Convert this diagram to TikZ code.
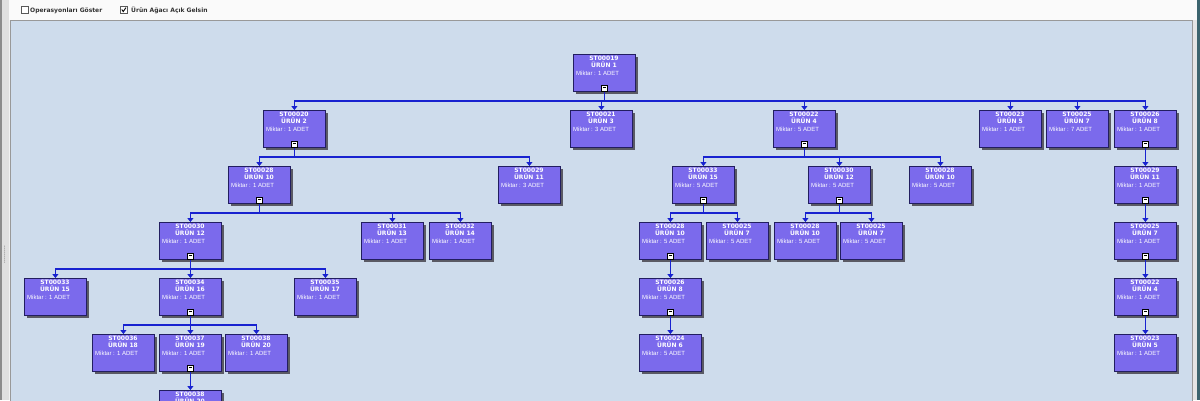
\documentclass[tikz,border=0pt]{standalone}
\usepackage{fontspec}
\setmainfont{DejaVu Sans}
\newfontfamily\libsans{Liberation Sans}
\usetikzlibrary{arrows.meta,shadows,calc}
\definecolor{panelbg}{RGB}{206,220,236}
\definecolor{nodefill}{RGB}{123,106,236}
\definecolor{nodeline}{RGB}{34,30,96}
\definecolor{wireblue}{RGB}{24,34,208}
\definecolor{shadowgray}{RGB}{90,90,100}
\definecolor{edgeteal}{RGB}{60,100,110}
\tikzset{
  box/.style={draw=nodeline, line width=0.8pt, fill=nodefill, minimum width=62pt, minimum height=37pt,
    inner sep=0pt, anchor=north west,
    drop shadow={shadow xshift=3pt, shadow yshift=-3pt, fill=shadowgray, opacity=1}},
  codetxt/.style={anchor=base, inner sep=0pt, text=white, font=\fontsize{6}{7}\selectfont\bfseries},
  qtytxt/.style={anchor=base west, inner sep=0pt, text=white, font=\libsans\fontsize{6}{7}\selectfont},
  togbox/.style={draw=black, fill=white, line width=0.6pt, minimum width=6pt, minimum height=6pt, inner sep=0pt},
  wire/.style={draw=wireblue, line width=1.8pt, -{Triangle[width=6pt,length=4pt]}},
  chk/.style={draw=gray!70!black, fill=white, line width=0.6pt, minimum width=7pt, minimum height=7pt, inner sep=0pt, anchor=north west},
  chklabel/.style={anchor=base west, inner sep=0pt, text=black!80, font=\fontsize{6}{7}\selectfont\bfseries}
}
\newcommand{\bomnode}[6]{%
  \node[box] (#1) at (#2,#3) {};
  \node[codetxt] (#1c) at ([xshift=31pt,yshift=-6pt]#1.north west) {#4};
  \node[codetxt] (#1u) at ([xshift=31pt,yshift=-13.5pt]#1.north west) {ÜRÜN #5};
  \node[qtytxt] (#1q) at ([xshift=3pt,yshift=-21pt]#1.north west) {Miktar : #6 ADET};
}
\newcommand{\togminus}[1]{%
  \node[togbox] (#1t) at ([yshift=4pt]#1.south) {};
  \draw[black, line width=0.8pt] ([xshift=-1.6pt]#1t.center) -- ([xshift=1.6pt]#1t.center);
}
\newcommand{\wireto}[2]{\draw[wire] (#1.south) -- ++(0,-9.5pt) -| (#2.north);}
\begin{document}
\begin{tikzpicture}[x=1pt,y=-1pt]
\path[use as bounding box] (0,0) rectangle (1200,400);
\clip (0,0) rectangle (1200,400);
% window background
\fill[black!5] (0,0) rectangle (1200,400);
\fill[black!2] (0,0) rectangle (1200,20);
\fill[black!45] (0,0) rectangle (2,400);
\fill[black!12] (2,0) rectangle (9,400);
\foreach \yy in {246,248,...,262} \fill[black!50] (4.5,\yy) circle (0.5);
\fill[black!10] (1192,20) rectangle (1197,400);
\fill[edgeteal] (1197,0) rectangle (1200,400);
% panel
\filldraw[fill=panelbg, draw=black!40, line width=0.8pt] (10,20) rectangle (1192,402);
% checkboxes
\node[chk] (cb1) at (21,6) {};
\node[chklabel] (cb1l) at (30,12.5) {Operasyonları Göster};
\node[chk] (cb2) at (120,6) {};
\draw[black, line width=0.9pt] ([xshift=-2pt,yshift=0.3pt]cb2.center) -- ([xshift=-0.6pt,yshift=-1.8pt]cb2.center) -- ([xshift=2.2pt,yshift=2.2pt]cb2.center);
\node[chklabel] (cb2l) at (131,12.5) {Ürün Ağacı Açık Gelsin};
% nodes
\bomnode{n1}{573}{54}{ST00019}{1}{1}
\bomnode{n2}{263}{110}{ST00020}{2}{1}
\bomnode{n3}{570}{110}{ST00021}{3}{3}
\bomnode{n4}{773}{110}{ST00022}{4}{5}
\bomnode{n5}{979}{110}{ST00023}{5}{1}
\bomnode{n6}{1046}{110}{ST00025}{7}{7}
\bomnode{n7}{1114}{110}{ST00026}{8}{1}
\bomnode{n8}{228}{166}{ST00028}{10}{1}
\bomnode{n9}{498}{166}{ST00029}{11}{3}
\bomnode{n10}{672}{166}{ST00033}{15}{5}
\bomnode{n11}{808}{166}{ST00030}{12}{5}
\bomnode{n12}{909}{166}{ST00028}{10}{5}
\bomnode{n13}{1114}{166}{ST00029}{11}{1}
\bomnode{n14}{159}{222}{ST00030}{12}{1}
\bomnode{n15}{361}{222}{ST00031}{13}{1}
\bomnode{n16}{429}{222}{ST00032}{14}{1}
\bomnode{n17}{639}{222}{ST00028}{10}{5}
\bomnode{n18}{706}{222}{ST00025}{7}{5}
\bomnode{n19}{774}{222}{ST00028}{10}{5}
\bomnode{n20}{840}{222}{ST00025}{7}{5}
\bomnode{n21}{1114}{222}{ST00025}{7}{1}
\bomnode{n22}{24}{278}{ST00033}{15}{1}
\bomnode{n23}{159}{278}{ST00034}{16}{1}
\bomnode{n24}{294}{278}{ST00035}{17}{1}
\bomnode{n25}{639}{278}{ST00026}{8}{5}
\bomnode{n26}{1114}{278}{ST00022}{4}{1}
\bomnode{n27}{92}{334}{ST00036}{18}{1}
\bomnode{n28}{159}{334}{ST00037}{19}{1}
\bomnode{n29}{225}{334}{ST00038}{20}{1}
\bomnode{n30}{639}{334}{ST00024}{6}{5}
\bomnode{n31}{1114}{334}{ST00023}{5}{1}
\bomnode{n32}{159}{390}{ST00038}{20}{1}
% toggles
\foreach \t in {n1,n2,n4,n7,n8,n10,n11,n13,n14,n17,n21,n23,n25,n26,n28} {\togminus{\t}}
% connectors
\foreach \c in {n2,n3,n4,n5,n6,n7} {\wireto{n1}{\c}}
\foreach \c in {n8,n9} {\wireto{n2}{\c}}
\foreach \c in {n10,n11,n12} {\wireto{n4}{\c}}
\wireto{n7}{n13}
\foreach \c in {n14,n15,n16} {\wireto{n8}{\c}}
\foreach \c in {n17,n18} {\wireto{n10}{\c}}
\foreach \c in {n19,n20} {\wireto{n11}{\c}}
\wireto{n13}{n21}
\foreach \c in {n22,n23,n24} {\wireto{n14}{\c}}
\wireto{n17}{n25}
\wireto{n21}{n26}
\foreach \c in {n27,n28,n29} {\wireto{n23}{\c}}
\wireto{n25}{n30}
\wireto{n26}{n31}
\wireto{n28}{n32}
\end{tikzpicture}
\end{document}
